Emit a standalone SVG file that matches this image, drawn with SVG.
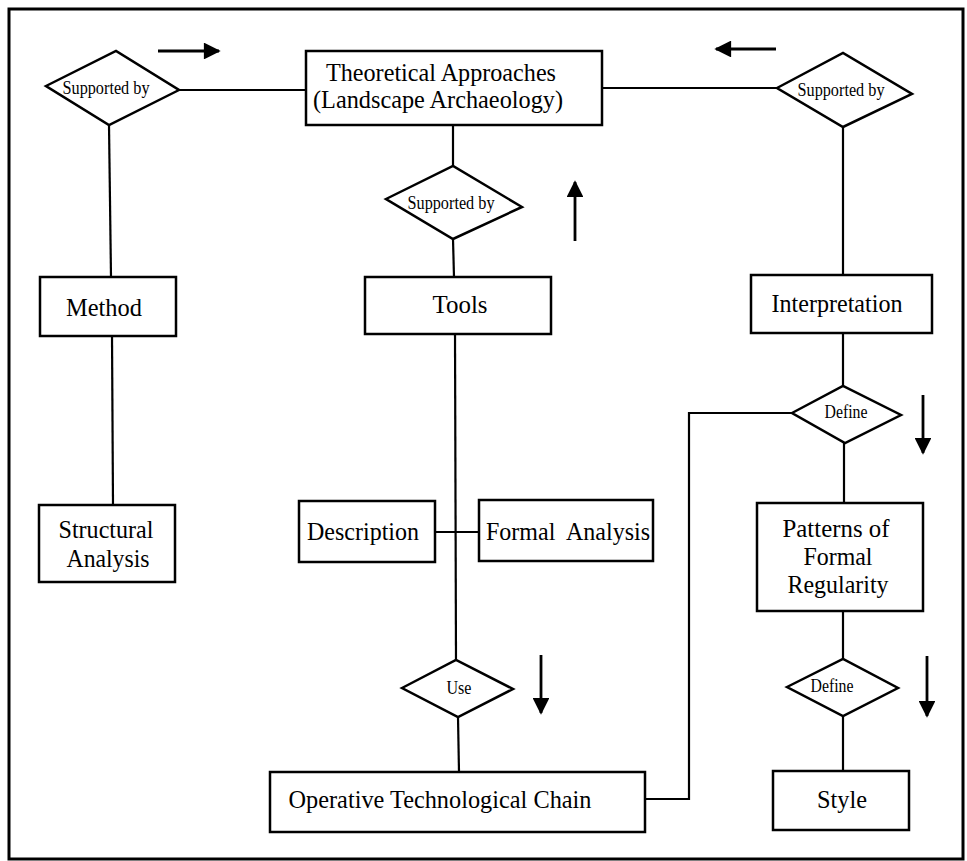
<svg xmlns="http://www.w3.org/2000/svg" width="967" height="861" viewBox="0 0 967 861">
  <style>
    .frame { fill: none; stroke: #000; stroke-width: 3; }
    .box { fill: #fff; stroke: #000; stroke-width: 2.5; }
    .rel { fill: #fff; stroke: #000; stroke-width: 2.5; stroke-linejoin: miter; }
    .lbl { font-family: "Liberation Serif", "Times New Roman", serif; font-size: 26px; fill: #000; text-anchor: middle; }
    .rlbl { font-family: "Liberation Serif", "Times New Roman", serif; font-size: 18px; fill: #000; text-anchor: middle; }
    .conn { fill: none; stroke: #000; stroke-width: 2.2; }
    .flow { fill: none; stroke: #000; stroke-width: 2.8; }
  </style>
  <defs>
    <marker id="head" viewBox="0 0 10 10" refX="9" refY="5" markerWidth="7" markerHeight="6" markerUnits="strokeWidth" orient="auto">
      <path d="M0,0 L10,5 L0,10 z" fill="#000"/>
    </marker>
  </defs>

  <rect width="967" height="861" fill="#fff"/>
  <rect class="frame" x="9" y="9" width="954" height="850"/>

  <!-- connectors -->
  <g id="connectors">
    <line class="conn" x1="179" y1="90" x2="306" y2="90"/>
    <line class="conn" x1="602" y1="88" x2="777" y2="88"/>
    <line class="conn" x1="453" y1="125" x2="453" y2="166"/>
    <line class="conn" x1="453" y1="239" x2="454" y2="277"/>
    <line class="conn" x1="109" y1="125" x2="111" y2="277"/>
    <line class="conn" x1="112" y1="336" x2="113" y2="505"/>
    <line class="conn" x1="455" y1="334" x2="456" y2="660"/>
    <line class="conn" x1="435" y1="532" x2="479" y2="532"/>
    <line class="conn" x1="458" y1="717" x2="459" y2="772"/>
    <line class="conn" x1="843" y1="127" x2="843" y2="275"/>
    <line class="conn" x1="843" y1="333" x2="843" y2="386"/>
    <line class="conn" x1="844" y1="443" x2="844" y2="503"/>
    <line class="conn" x1="843" y1="611" x2="843" y2="659"/>
    <line class="conn" x1="843" y1="716" x2="843" y2="771"/>
    <polyline class="conn" points="792,413 689,413 689,799 645,799"/>
    <!-- direction arrows -->
    <line class="flow" x1="158" y1="51" x2="219" y2="51" marker-end="url(#head)"/>
    <line class="flow" x1="776" y1="49" x2="716" y2="49" marker-end="url(#head)"/>
    <line class="flow" x1="575" y1="241" x2="575" y2="182" marker-end="url(#head)"/>
    <line class="flow" x1="923" y1="395" x2="923" y2="453" marker-end="url(#head)"/>
    <line class="flow" x1="541" y1="655" x2="541" y2="713" marker-end="url(#head)"/>
    <line class="flow" x1="927" y1="656" x2="927" y2="716" marker-end="url(#head)"/>
  </g>

  <g id="theoretical-approaches">
    <rect class="box" x="306" y="51" width="296" height="74"/>
    <text class="lbl" x="441" y="81" textLength="230" lengthAdjust="spacingAndGlyphs">Theoretical Approaches</text>
    <text class="lbl" x="438" y="108" textLength="250" lengthAdjust="spacingAndGlyphs">(Landscape Archaeology)</text>
  </g>

  <g id="rel-supported-left">
    <polygon class="rel" points="46,86 116,51 179,90 109,125"/>
    <text class="rlbl" x="106" y="94" textLength="87" lengthAdjust="spacingAndGlyphs">Supported by</text>
  </g>

  <g id="rel-supported-centre">
    <polygon class="rel" points="386,199 453,166 522,207 453,239"/>
    <text class="rlbl" x="451" y="209" textLength="87" lengthAdjust="spacingAndGlyphs">Supported by</text>
  </g>

  <g id="rel-supported-right">
    <polygon class="rel" points="777,88 843,53 912,94 843,127"/>
    <text class="rlbl" x="841" y="96" textLength="87" lengthAdjust="spacingAndGlyphs">Supported by</text>
  </g>

  <g id="method">
    <rect class="box" x="40" y="277" width="136" height="59"/>
    <text class="lbl" x="104" y="316" textLength="76" lengthAdjust="spacingAndGlyphs">Method</text>
  </g>

  <g id="tools">
    <rect class="box" x="365" y="277" width="186" height="57"/>
    <text class="lbl" x="460" y="313" textLength="55" lengthAdjust="spacingAndGlyphs">Tools</text>
  </g>

  <g id="interpretation">
    <rect class="box" x="751" y="275" width="181" height="58"/>
    <text class="lbl" x="837" y="312" textLength="131" lengthAdjust="spacingAndGlyphs">Interpretation</text>
  </g>

  <g id="structural-analysis">
    <rect class="box" x="39" y="505" width="136" height="77"/>
    <text class="lbl" x="106" y="538" textLength="95" lengthAdjust="spacingAndGlyphs">Structural</text>
    <text class="lbl" x="108" y="567" textLength="83" lengthAdjust="spacingAndGlyphs">Analysis</text>
  </g>

  <g id="description">
    <rect class="box" x="299" y="501" width="136" height="61"/>
    <text class="lbl" x="363" y="540" textLength="112" lengthAdjust="spacingAndGlyphs">Description</text>
  </g>

  <g id="formal-analysis">
    <rect class="box" x="479" y="500" width="174" height="61"/>
    <text class="lbl" x="568" y="540" textLength="164" lengthAdjust="spacingAndGlyphs" xml:space="preserve">Formal  Analysis</text>
  </g>

  <g id="rel-define-upper">
    <polygon class="rel" points="792,413 843,386 901,415 845,443"/>
    <text class="rlbl" x="846" y="418" textLength="43" lengthAdjust="spacingAndGlyphs">Define</text>
  </g>

  <g id="patterns-of-formal-regularity">
    <rect class="box" x="757" y="503" width="166" height="108"/>
    <text class="lbl" x="836" y="537" textLength="107" lengthAdjust="spacingAndGlyphs">Patterns of</text>
    <text class="lbl" x="838" y="565" textLength="69" lengthAdjust="spacingAndGlyphs">Formal</text>
    <text class="lbl" x="838" y="593" textLength="101" lengthAdjust="spacingAndGlyphs">Regularity</text>
  </g>

  <g id="rel-use">
    <polygon class="rel" points="402,688 456,660 513,689 458,717"/>
    <text class="rlbl" x="459" y="694" textLength="25" lengthAdjust="spacingAndGlyphs">Use</text>
  </g>

  <g id="rel-define-lower">
    <polygon class="rel" points="787,687 843,659 898,688 843,716"/>
    <text class="rlbl" x="832" y="692" textLength="43" lengthAdjust="spacingAndGlyphs">Define</text>
  </g>

  <g id="operative-technological-chain">
    <rect class="box" x="270" y="772" width="375" height="60"/>
    <text class="lbl" x="440" y="808" textLength="303" lengthAdjust="spacingAndGlyphs">Operative Technological Chain</text>
  </g>

  <g id="style">
    <rect class="box" x="773" y="771" width="136" height="59"/>
    <text class="lbl" x="842" y="808" textLength="50" lengthAdjust="spacingAndGlyphs">Style</text>
  </g>
</svg>
